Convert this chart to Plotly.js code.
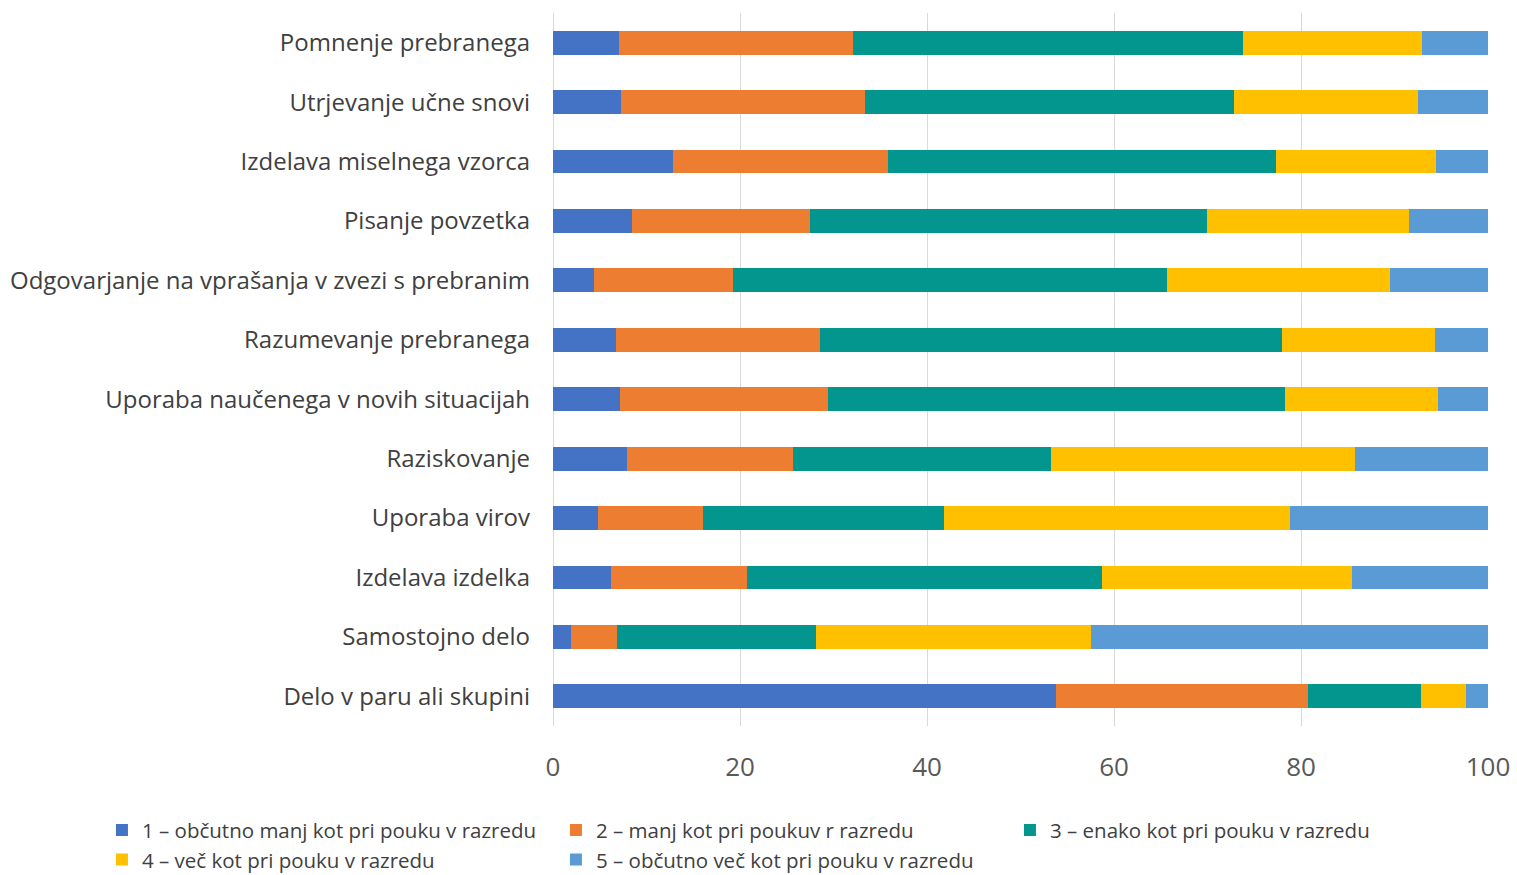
<!DOCTYPE html>
<html>
<head>
<meta charset="utf-8">
<script src="https://cdn.plot.ly/plotly-3.0.1.min.js"></script>
<style>html,body{margin:0;padding:0;background:#fff;}#chart{width:1517px;height:875px;}</style>
</head>
<body>
<div id="chart"></div>
<script>
const categories = [
  "Pomnenje prebranega",
  "Utrjevanje učne snovi",
  "Izdelava miselnega vzorca",
  "Pisanje povzetka",
  "Odgovarjanje na vprašanja v zvezi s prebranim",
  "Razumevanje prebranega",
  "Uporaba naučenega v novih situacijah",
  "Raziskovanje",
  "Uporaba virov",
  "Izdelava izdelka",
  "Samostojno delo",
  "Delo v paru ali skupini"
];
const seriesNames = [
  "1 – občutno manj kot pri pouku v razredu",
  "2 – manj kot pri poukuv r razredu",
  "3 – enako kot pri pouku v razredu",
  "4 – več kot pri pouku v razredu",
  "5 – občutno več kot pri pouku v razredu"
];
const s1 = [7.1, 7.3, 12.8, 8.4, 4.4, 6.7, 7.2, 7.9, 4.8, 6.2, 1.9, 53.8];
const s2 = [25.0, 26.1, 23.0, 19.1, 14.8, 21.9, 22.2, 17.8, 11.2, 14.5, 4.9, 26.9];
const s3 = [41.7, 39.4, 41.5, 42.4, 46.5, 49.4, 48.9, 27.6, 25.8, 38.0, 21.3, 12.1];
const s4 = [19.1, 19.7, 17.1, 21.6, 23.8, 16.3, 16.4, 32.5, 37.0, 26.8, 29.4, 4.9];
const s5 = [7.1, 7.5, 5.6, 8.5, 10.5, 5.7, 5.3, 14.2, 21.2, 14.5, 42.5, 2.3];
const tickVals = [0, 20, 40, 60, 80, 100];
const colors = ["#4472C4", "#ED7D31", "#03968F", "#FFC000", "#5B9BD5"];

const allSeries = [s1, s2, s3, s4, s5];
const traces = allSeries.map((vals, i) => ({
  type: 'bar',
  orientation: 'h',
  name: seriesNames[i],
  y: categories,
  x: vals,
  marker: {color: colors[i], line: {width: 0}},
  hoverinfo: 'x+name'
}));

const layout = {
  width: 1517,
  height: 875,
  barmode: 'stack',
  bargap: 0.6,
  paper_bgcolor: '#fff',
  plot_bgcolor: '#fff',
  margin: {l: 553, r: 29, t: 13, b: 149, autoexpand: false},
  font: {family: 'Open Sans, sans-serif', color: '#404040'},
  xaxis: {
    range: [0, 100],
    tickvals: tickVals,
    showgrid: true,
    gridcolor: '#D9D9D9',
    gridwidth: 1,
    zeroline: true,
    zerolinecolor: '#D9D9D9',
    zerolinewidth: 1,
    showline: false,
    ticks: '',
    ticklabelstandoff: 23,
    tickfont: {size: 26, color: '#595959', family: 'Open Sans, sans-serif'},
    fixedrange: true
  },
  yaxis: {
    type: 'category',
    autorange: 'reversed',
    showgrid: false,
    zeroline: false,
    showline: false,
    ticks: '',
    ticklabelstandoff: 22,
    automargin: false,
    tickfont: {size: 24, color: '#404040', family: 'Open Sans, sans-serif'},
    fixedrange: true
  },
  legend: {
    orientation: 'h',
    x: -0.4824,
    xanchor: 'left',
    y: -0.118,
    yanchor: 'top',
    traceorder: 'normal',
    entrywidth: 409,
    entrywidthmode: 'pixels',
    font: {size: 20.5, color: '#404040', family: 'Open Sans, sans-serif'},
    itemsizing: 'constant',
    tracegroupgap: 0
  },
  showlegend: true
};

Plotly.newPlot('chart', traces, layout, {displayModeBar: false, staticPlot: true});
</script>
</body>
</html>
